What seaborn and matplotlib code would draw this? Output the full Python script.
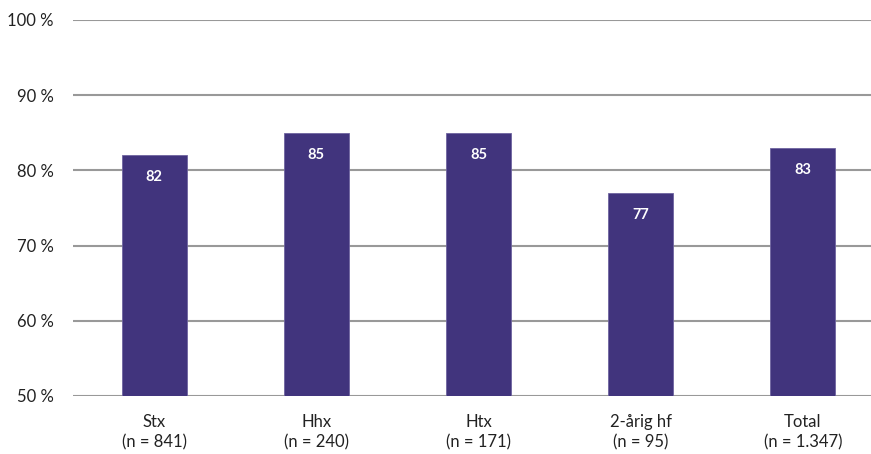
import matplotlib
matplotlib.use("Agg")
import matplotlib.pyplot as plt
import seaborn as sns
import pandas as pd

categories = ["Stx\n(n = 841)", "Hhx\n(n = 240)", "Htx\n(n = 171)", "2-årig hf\n(n = 95)", "Total\n(n = 1.347)"]
values = [82, 85, 85, 77, 83]
yticks = [50, 60, 70, 80, 90, 100]
ytick_labels = ["50 %", "60 %", "70 %", "80 %", "90 %", "100 %"]

sns.set_theme(style="white")
plt.rcParams['font.family'] = ['Lato', 'DejaVu Sans']

df = pd.DataFrame({"cat": categories, "val": values})

fig = plt.figure(figsize=(8.71, 4.54), dpi=100)
ax = fig.add_axes([73/871, 1 - 396/454, (884 - 73)/871, (396 - 20)/454])
ax.set_axisbelow(True)
for y in yticks:
    ax.axhline(y, color="#999999", linewidth=1.5, zorder=0)

sns.barplot(data=df, x="cat", y="val", color="#41347d", saturation=1, width=0.4,
            edgecolor="#6f64a0", linewidth=0.6, ax=ax, zorder=2)

for i, v in enumerate(values):
    ax.annotate(str(v), (i, v), xytext=(0, -22), textcoords="offset pixels",
                ha="center", va="center", color="white", fontsize=10.5, fontweight="bold")

ax.set_ylim(50, 100)
ax.set_xlim(-0.5, 4.5)
ax.set_yticks(yticks)
ax.set_yticklabels(ytick_labels, fontsize=12, color="#222222")
ax.tick_params(axis="x", labelsize=12, colors="#222222", pad=13, length=0)
ax.tick_params(axis="y", pad=14, length=0)
for lbl in ax.get_xticklabels():
    lbl.set_linespacing(1.3)
ax.set_xlabel("")
ax.set_ylabel("")
for s in ax.spines.values():
    s.set_visible(False)

fig.savefig("out.png", dpi=100)
